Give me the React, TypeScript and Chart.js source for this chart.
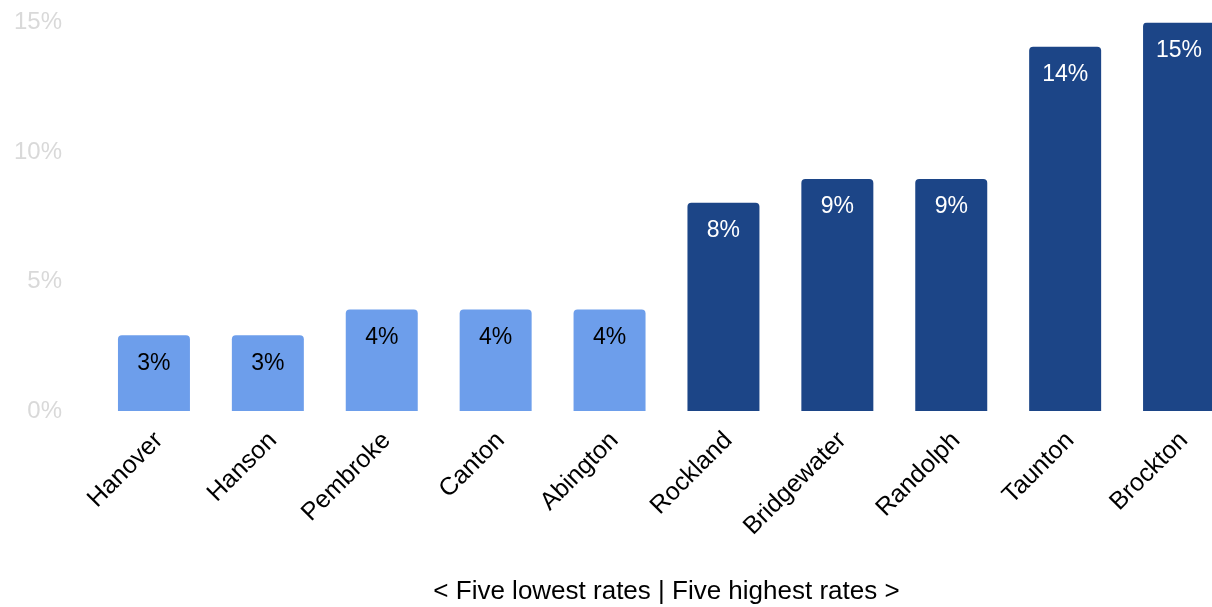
import React, { useEffect, useRef } from "react";
import { Chart, registerables } from "chart.js";

Chart.register(...registerables);

const towns = ["Hanover", "Hanson", "Pembroke", "Canton", "Abington", "Rockland", "Bridgewater", "Randolph", "Taunton", "Brockton"];
const rates = [2.92, 2.92, 3.92, 3.92, 3.92, 8.04, 8.96, 8.96, 14.06, 15.0];
const rateLabels = ["3%", "3%", "4%", "4%", "4%", "8%", "9%", "9%", "14%", "15%"];
const groups = ["low", "low", "low", "low", "low", "high", "high", "high", "high", "high"];
const yTicks = [0, 5, 10, 15];
const axisTitle = "< Five lowest rates | Five highest rates >";

const LIGHT = "#6d9eeb";
const DARK = "#1c4587";
const FONT = "'Liberation Sans', Arial, sans-serif";
const SHIFT = 27;

const labelPlugin = {
  id: "barLabels",
  afterDatasetsDraw(chart: any) {
    const ctx = chart.ctx;
    const meta = chart.getDatasetMeta(0);
    ctx.save();
    ctx.font = `23px ${FONT}`;
    ctx.textAlign = "center";
    ctx.textBaseline = "middle";
    meta.data.forEach((bar: any, i: number) => {
      ctx.fillStyle = groups[i] === "low" ? "#000000" : "#ffffff";
      ctx.fillText(rateLabels[i], bar.x, bar.y + 28);
    });
    ctx.restore();
  },
};

export default function App() {
  const ref = useRef<HTMLCanvasElement | null>(null);
  useEffect(() => {
    if (!ref.current) return;
    const chart = new Chart(ref.current, {
      type: "bar",
      data: {
        labels: towns,
        datasets: [
          {
            data: rates,
            backgroundColor: groups.map((g) => (g === "low" ? LIGHT : DARK)),
            borderRadius: { topLeft: 4, topRight: 4, bottomLeft: 0, bottomRight: 0 },
            borderSkipped: false,
            categoryPercentage: 1,
            barPercentage: 0.632,
          },
        ],
      },
      options: {
        animation: false,
        responsive: false,
        maintainAspectRatio: false,
        layout: { padding: { top: 0, right: 14, left: 0, bottom: 0 } },
        plugins: { legend: { display: false }, tooltip: { enabled: false } },
        scales: {
          y: {
            min: 0,
            max: 15,
            afterBuildTicks(axis: any) {
              axis.ticks = yTicks.map((v) => ({ value: v }));
            },
            afterFit(axis: any) {
              axis.width = 97;
            },
            grid: { display: false, drawTicks: false },
            border: { display: false },
            ticks: {
              color: "#d9d9d9",
              font: { family: FONT, size: 24 },
              padding: 35,
              callback: (v: any) => `${v}%`,
            },
          },
          x: {
            grid: { display: false, drawTicks: false },
            border: { display: false },
            afterFit(axis: any) {
              axis.height = 196;
            },
            ticks: {
              color: "#000000",
              font: { family: FONT, size: 25 },
              minRotation: 45,
              maxRotation: 45,
              padding: 15,
              labelOffset: 5,
            },
            title: {
              display: true,
              text: axisTitle,
              color: "#000000",
              font: { family: FONT, size: 26 },
              padding: { top: 0, bottom: 0 },
            },
          },
        },
      },
      plugins: [labelPlugin],
    });
    return () => chart.destroy();
  }, []);
  return (
    <div style={{ position: "fixed", left: 0, top: -SHIFT, width: 1250, height: 607 + SHIFT, background: "#fff" }}>
      <canvas ref={ref} width={1250} height={607 + SHIFT} style={{ width: 1250, height: 607 + SHIFT, display: "block" }} />
    </div>
  );
}
